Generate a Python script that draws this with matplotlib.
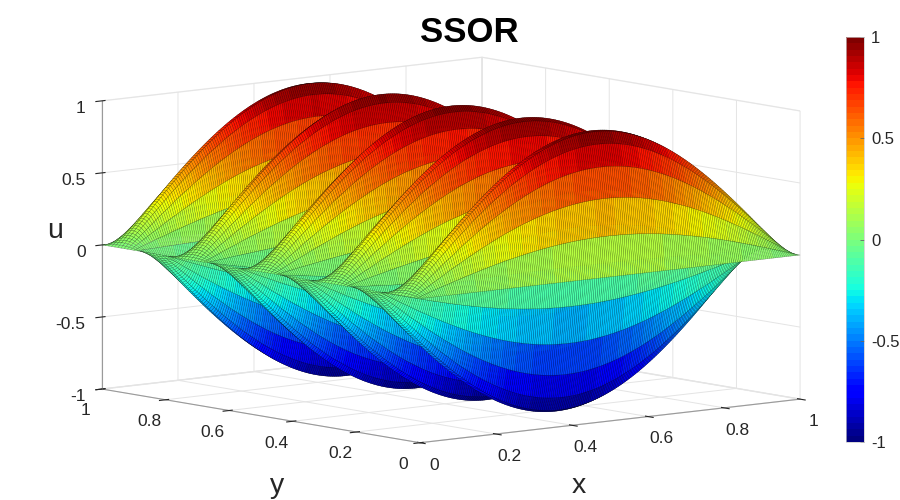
import numpy as np
import matplotlib
matplotlib.use("Agg")
import matplotlib.pyplot as plt
from matplotlib import colormaps

# estilo parecido al de MATLAB
plt.rcParams['font.family'] = ['Liberation Sans', 'DejaVu Sans']
plt.rcParams['grid.color'] = '#e4e4e4'
plt.rcParams['grid.linewidth'] = 0.7
plt.rcParams['axes.edgecolor'] = '#9a9a9a'
plt.rcParams['axes.linewidth'] = 0.8
plt.rcParams['xtick.labelcolor'] = '#262626'
plt.rcParams['ytick.labelcolor'] = '#262626'

# malla y modos de la solucion
nx, ny = 201, 101
modo_x, modo_y = 1, 9
x = np.linspace(0, 1, nx)
y = np.linspace(0, 1, ny)

x_ticks = [0, 0.2, 0.4, 0.6, 0.8, 1]
x_labels = ['0', '0.2', '0.4', '0.6', '0.8', '1']
y_ticks = [0, 0.2, 0.4, 0.6, 0.8, 1]
y_labels = ['0', '0.2', '0.4', '0.6', '0.8', '1']
u_ticks = [-1, -0.5, 0, 0.5, 1]
u_labels = ['-1', '-0.5', '0', '0.5', '1']
cbar_ticks = [-1, -0.5, 0, 0.5, 1]
cbar_labels = ['-1', '-0.5', '0', '0.5', '1']

X, Y = np.meshgrid(x, y)
U = np.sin(modo_x * np.pi * X) * np.sin(modo_y * np.pi * Y)

jet64 = colormaps['jet'].resampled(64)

fig = plt.figure(figsize=(9, 5), dpi=100)
ax = fig.add_axes([0.04467, -0.3216, 0.8889, 1.6], projection='3d')
ax.set_proj_type('ortho')
ax.view_init(elev=8, azim=-129.5)
ax.set_box_aspect((492.5, 500, 291), zoom=0.922)

surf = ax.plot_surface(X, Y, U, rstride=1, cstride=1, cmap=jet64,
                       vmin=-1, vmax=1, edgecolor=(0, 0, 0, 0.45),
                       linewidth=0.25, antialiased=True)

ax.set_xlim(0, 1)
ax.set_ylim(0, 1)
ax.set_zlim(-1, 1)
ax.set_xticks(x_ticks)
ax.set_xticklabels(x_labels)
ax.set_yticks(y_ticks)
ax.set_yticklabels(y_labels)
ax.set_zticks(u_ticks)
ax.set_zticklabels(u_labels)
ax.tick_params(labelsize=12.5, colors='#262626')
ax.xaxis.set_tick_params(pad=5)
ax.yaxis.set_tick_params(pad=5)
ax.zaxis.set_tick_params(pad=-1)
for t in ax.zaxis.get_ticklabels():
    t.set_horizontalalignment('right')

for eje in (ax.xaxis, ax.yaxis, ax.zaxis):
    eje.pane.set_facecolor((1, 1, 1, 0))
    eje.pane.set_edgecolor('#e4e4e4')
    eje.line.set_color('#9a9a9a')
    eje.line.set_linewidth(0.8)
    eje._axinfo['tick']['color'] = '#9a9a9a'

# titulo y etiquetas
fig.text(0.5217, 0.9166, 'SSOR', ha='center', va='baseline',
         fontsize=25, fontweight='bold', color='black')
fig.text(0.6426, 0.0134, 'x', ha='center', va='baseline', fontsize=20.5, color='#262626')
fig.text(0.3078, 0.0134, 'y', ha='center', va='baseline', fontsize=20.5, color='#262626')
fig.text(0.0611, 0.5246, 'u', ha='center', va='baseline', fontsize=20.5, color='#262626')

# barra de colores
cax = fig.add_axes([0.94, 0.116, 0.02, 0.81])
cb = fig.colorbar(surf, cax=cax, ticks=cbar_ticks)
cb.ax.set_yticklabels(cbar_labels)
cb.outline.set_edgecolor('#c8c8c8')
cb.outline.set_linewidth(0.5)
cax.tick_params(direction='in', length=3, width=0.6, color='#666666',
                labelsize=12, labelcolor='#262626', pad=5)

fig.savefig('out.png', dpi=100)
